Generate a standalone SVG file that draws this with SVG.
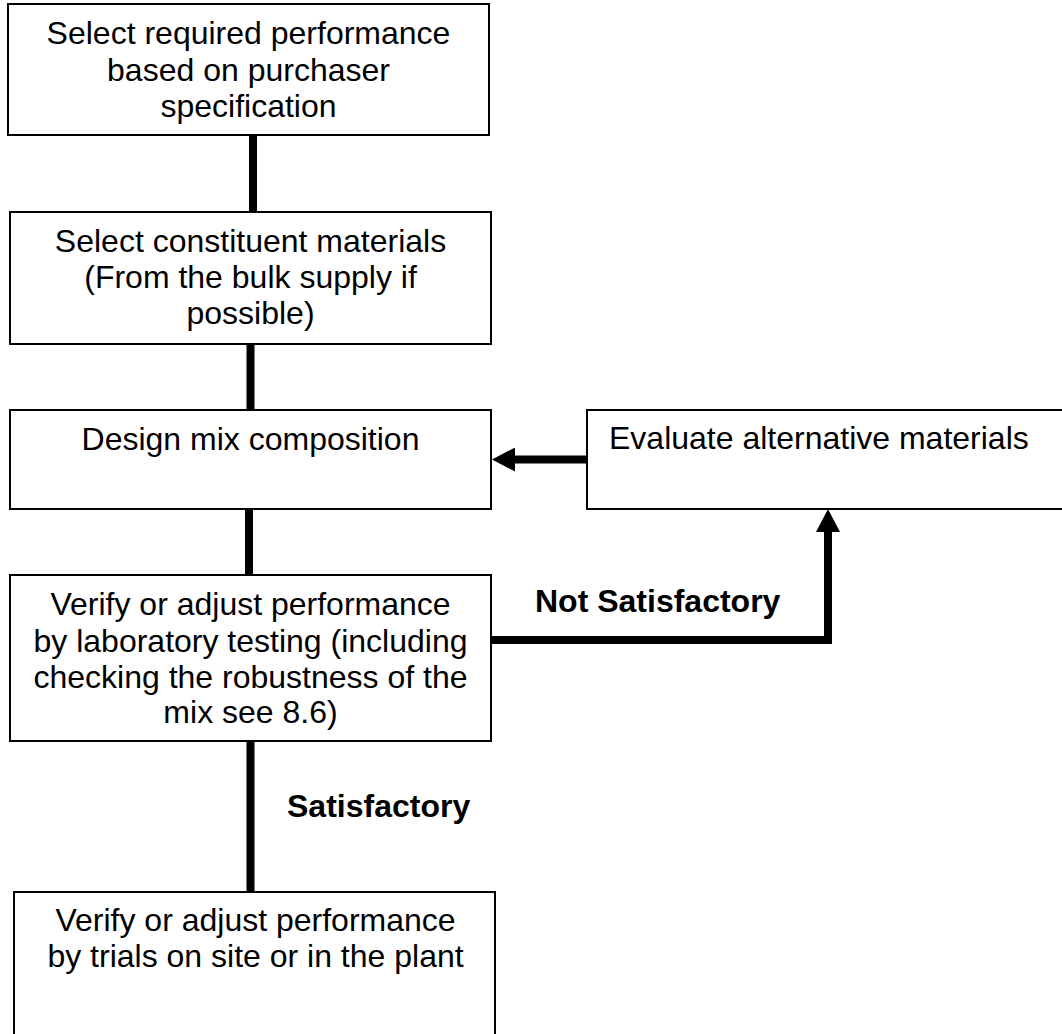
<svg xmlns="http://www.w3.org/2000/svg" width="1062" height="1034" viewBox="0 0 1062 1034">
  <defs>
    <style>
      .box { fill: #ffffff; stroke: #000000; stroke-width: 2; }
      .t { font-family: "Liberation Sans", Arial, sans-serif; font-size: 32px; fill: #000000; }
      .c { text-anchor: middle; }
      .b { font-weight: bold; }
      .conn { fill: none; stroke: #000000; stroke-width: 8; stroke-linejoin: miter; stroke-linecap: butt; }
    </style>
    <marker id="head" viewBox="0 0 23 24" refX="0" refY="12" markerWidth="23" markerHeight="24" markerUnits="userSpaceOnUse" orient="auto">
      <path d="M0,0 L23,12 L0,24 Z" fill="#000000"/>
    </marker>
  </defs>
  <rect width="1062" height="1034" fill="#ffffff"/>

  <g id="connectors">
    <line class="conn" x1="253" y1="136" x2="253" y2="212"/>
    <line class="conn" x1="250.5" y1="344" x2="250.5" y2="410"/>
    <line class="conn" x1="249" y1="509" x2="249" y2="575"/>
    <line class="conn" x1="250.5" y1="741" x2="250.5" y2="892"/>
    <line class="conn" x1="587" y1="459.5" x2="515" y2="459.5" marker-end="url(#head)"/>
    <polyline class="conn" points="491,640 828,640 828,532" marker-end="url(#head)"/>
    <text class="t b" x="535" y="612">Not Satisfactory</text>
    <text class="t b" x="287" y="817">Satisfactory</text>
  </g>

  <g id="node-select-performance">
    <rect class="box" x="8" y="4" width="481" height="131"/>
    <text class="t c" x="248.5" y="44">Select required performance</text>
    <text class="t c" x="248.5" y="81">based on purchaser</text>
    <text class="t c" x="248.5" y="117">specification</text>
  </g>

  <g id="node-select-materials">
    <rect class="box" x="10" y="212" width="481" height="132"/>
    <text class="t c" x="250.5" y="252">Select constituent materials</text>
    <text class="t c" x="250.5" y="288">(From the bulk supply if</text>
    <text class="t c" x="250.5" y="324">possible)</text>
  </g>

  <g id="node-design-mix">
    <rect class="box" x="10" y="410" width="481" height="99"/>
    <text class="t c" x="250.5" y="450">Design mix composition</text>
  </g>

  <g id="node-evaluate">
    <rect class="box" x="587" y="410" width="490" height="99"/>
    <text class="t" x="609" y="449">Evaluate alternative materials</text>
  </g>

  <g id="node-lab-testing">
    <rect class="box" x="10" y="575" width="481" height="166"/>
    <text class="t c" x="250.5" y="615">Verify or adjust performance</text>
    <text class="t c" x="250.5" y="652">by laboratory testing (including</text>
    <text class="t c" x="250.5" y="688">checking the robustness of the</text>
    <text class="t c" x="250.5" y="723">mix see 8.6)</text>
  </g>

  <g id="node-site-trials">
    <rect class="box" x="14" y="892" width="481" height="160"/>
    <text class="t c" x="255.5" y="931">Verify or adjust performance</text>
    <text class="t c" x="255.5" y="967">by trials on site or in the plant</text>
  </g>
</svg>
